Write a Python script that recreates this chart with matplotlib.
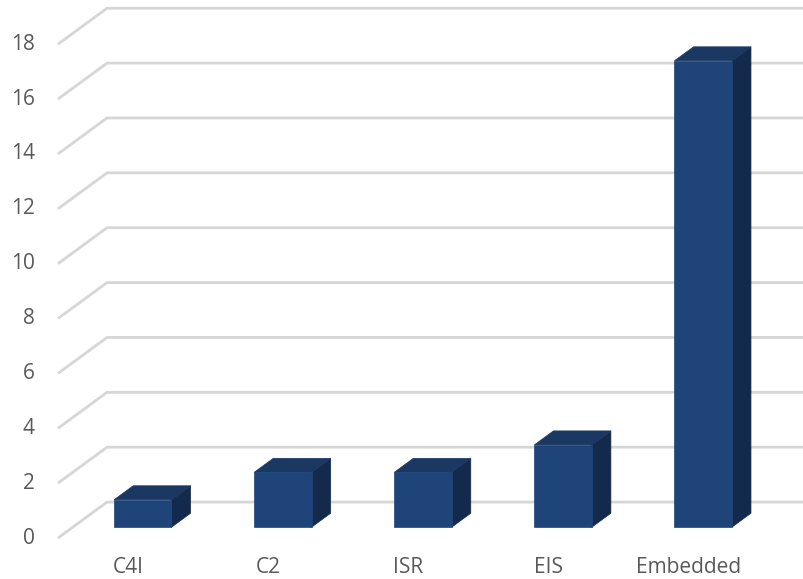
#Code for a 3D-look column chart (Excel style) drawn with plain matplotlib patches
import matplotlib.pyplot as plt
from matplotlib.patches import Polygon

categories = ['C4I', 'C2', 'ISR', 'EIS', 'Embedded']
values = [1, 2, 2, 3, 17]
yticks = [0, 2, 4, 6, 8, 10, 12, 14, 16, 18]

# depth of the chart box (in category units / value units)
wall_dx, wall_dy = 0.35, 1.31
# bars sit between 30% and 69% of the depth
bar_front, bar_back = 0.30, 0.69
bar_width = 0.41

front_col = '#1f4479'
top_col = '#1b3862'
side_col = '#142a4c'
grid_col = '#d6d6d6'
text_col = '#595959'

plt.rcParams['font.family'] = ['Open Sans', 'DejaVu Sans']

fig = plt.figure(figsize=(8.04, 5.79), dpi=100)
ax = fig.add_axes([0, 0, 1, 1])
ax.set_xlim(-0.914, 4.825)
ax.set_ylim(-1.494, 19.61)
ax.axis('off')

x_left = -0.5
x_right = ax.get_xlim()[1]

#------gridlines: slanted floor edge then flat back wall line----------
for v in yticks:
    ax.plot([x_left, x_left + wall_dx, x_right], [v, v + wall_dy, v + wall_dy],
            color=grid_col, lw=2.0, solid_capstyle='butt', zorder=1)
    ax.text(x_left - 0.165, v, str(v), ha='right', va='center',
            fontsize=15, color=text_col)

#------bars----------
fdx, fdy = wall_dx * bar_front, wall_dy * bar_front
ddx = wall_dx * (bar_back - bar_front)
ddy = wall_dy * (bar_back - bar_front)
for i, (cat, val) in enumerate(zip(categories, values)):
    x0 = i + fdx - bar_width / 2
    x1 = i + fdx + bar_width / 2
    y0 = fdy
    y1 = fdy + val
    front = Polygon([(x0, y0), (x1, y0), (x1, y1), (x0, y1)],
                    closed=True, fc=front_col, ec=front_col, lw=0.5, zorder=3)
    top = Polygon([(x0, y1), (x1, y1), (x1 + ddx, y1 + ddy), (x0 + ddx, y1 + ddy)],
                  closed=True, fc=top_col, ec=top_col, lw=0.5, zorder=3)
    side = Polygon([(x1, y0), (x1 + ddx, y0 + ddy), (x1 + ddx, y1 + ddy), (x1, y1)],
                   closed=True, fc=side_col, ec=side_col, lw=0.5, zorder=3)
    for p in (side, top, front):
        ax.add_patch(p)
    ax.text(i, -1.06, cat, ha='center', va='center', fontsize=15, color=text_col)

plt.savefig('out.png', dpi=100)
